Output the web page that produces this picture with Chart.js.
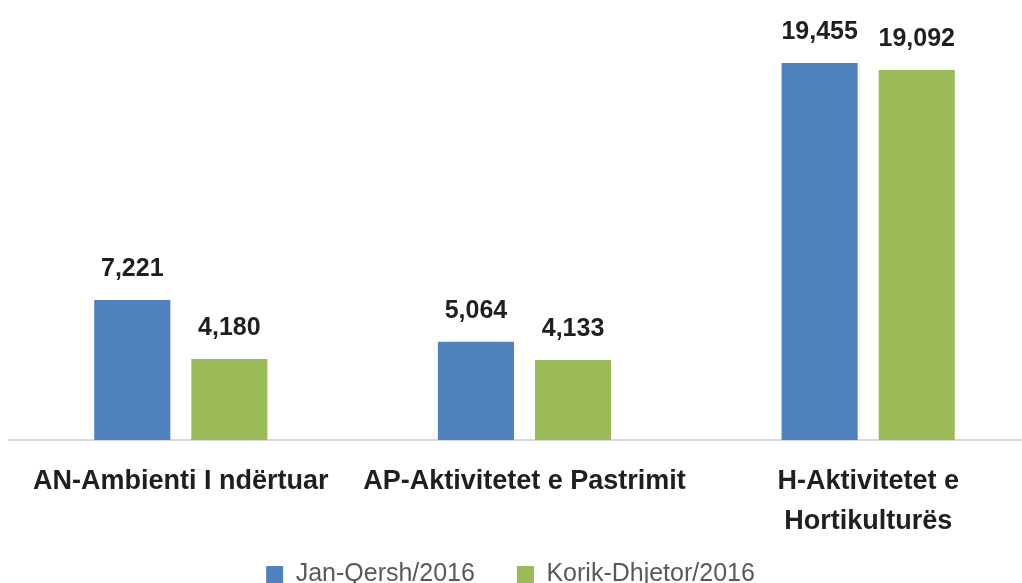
<!DOCTYPE html>
<html>
<head>
<meta charset="utf-8">
<script src="https://cdn.jsdelivr.net/npm/chart.js@4.4.1/dist/chart.umd.min.js"></script>
<style>
  html, body { margin: 0; padding: 0; background: #fff; overflow: hidden; }
  #wrap { position: relative; width: 1040px; height: 597px; }
</style>
</head>
<body>
<div id="wrap"><canvas id="chart"></canvas></div>
<script>
const categories = [
  "AN-Ambienti I ndërtuar",
  "AP-Aktivitetet e Pastrimit",
  ["H-Aktivitetet e", "Hortikulturës"]
];
const seriesNames = ["Jan-Qersh/2016", "Korik-Dhjetor/2016"];
const janQersh = [7221, 5064, 19455];
const korikDhjetor = [4180, 4133, 19092];
const colors = ["#4F81BD", "#9BBB59"];

// numbers above each bar
const valueLabels = {
  id: "valueLabels",
  afterDatasetsDraw(chart) {
    const ctx = chart.ctx;
    ctx.save();
    ctx.font = "bold 25px 'Liberation Sans', Arial, sans-serif";
    ctx.fillStyle = "#1f1f1f";
    ctx.textAlign = "center";
    ctx.textBaseline = "alphabetic";
    chart.data.datasets.forEach((ds, i) => {
      const meta = chart.getDatasetMeta(i);
      meta.data.forEach((bar, j) => {
        ctx.fillText(ds.data[j].toLocaleString("en-US"), bar.x, bar.y - 24);
      });
    });
    ctx.restore();
  }
};

// x axis is squeezed so the legend sits close, let its labels spill down;
// nudge legend a bit to the left
const layoutFix = {
  id: "layoutFix",
  afterLayout(chart) {
    chart.scales.x.bottom = chart.height;
  },
  afterUpdate(chart) {
    chart.legend.left -= 14;
    chart.legend.right -= 14;
  }
};

new Chart(document.getElementById("chart"), {
  type: "bar",
  data: {
    labels: categories,
    datasets: [
      { label: seriesNames[0], data: janQersh, backgroundColor: colors[0] },
      { label: seriesNames[1], data: korikDhjetor, backgroundColor: colors[1] }
    ]
  },
  options: {
    responsive: true,
    maintainAspectRatio: false,
    animation: false,
    layout: { padding: { left: 9, right: 0, top: 0, bottom: 0 } },
    datasets: {
      bar: { categoryPercentage: 0.565, barPercentage: 0.784 }
    },
    scales: {
      x: {
        grid: { display: false, drawTicks: false },
        border: { display: true, color: "#d9d9d9", width: 2 },
        ticks: {
          color: "#1f1f1f",
          padding: 21,
          maxRotation: 0,
          autoSkip: false,
          font: { family: "'Liberation Sans', Arial, sans-serif", size: 27, weight: "bold", lineHeight: 1.5 }
        },
        afterFit(scale) { scale.height = 80; }
      },
      y: { display: false, min: 0, max: 22700 }
    },
    plugins: {
      tooltip: { enabled: false },
      legend: {
        position: "bottom",
        labels: {
          color: "#595959",
          boxWidth: 17,
          boxHeight: 17,
          padding: 42,
          font: { family: "'Liberation Sans', Arial, sans-serif", size: 25 }
        }
      }
    }
  },
  plugins: [valueLabels, layoutFix]
});
</script>
</body>
</html>
